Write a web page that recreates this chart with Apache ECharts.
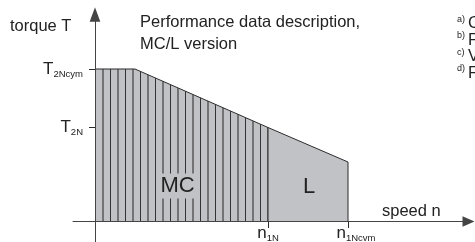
<!DOCTYPE html>
<html>
<head>
<meta charset="utf-8">
<script src="https://cdn.jsdelivr.net/npm/echarts@6/dist/echarts.min.js"></script>
<style>
  html, body { margin: 0; padding: 0; background: #fff; }
  #main { width: 475px; height: 242px; }
</style>
</head>
<body>
<div id="main"></div>
<script>
// torque/speed envelope, relative units (speed on x, torque on y)
const nCorner = 40        // end of the flat T2Ncym part
const n1N = 173
const n1Ncvm = 253
const T2Ncym = 152.5
const T2N = 94
const TEnd = 59.5         // torque left at n1Ncvm

const mcOutline = [[0, T2Ncym], [nCorner, T2Ncym], [n1N, T2N]]
const lOutline = [[n1N, 0], [n1N, T2N], [n1Ncvm, TEnd], [n1Ncvm, 0]]

const xTicks = [n1N, n1Ncvm]
const xTickNames = [['n', '1N'], ['n', '1Ncvm']]
const yTicks = [T2Ncym, T2N]
const yTickNames = [['T', '2Ncym'], ['T', '2N']]

const noteKeys = ['a)', 'b)', 'c)', 'd)']
const noteWords = ['C', 'F', 'V', 'F']

const FONT = '"Liberation Sans", Arial, sans-serif'
const INK = '#222'
const GREY = '#c1c2c6'
const LINE = '#2b2b2b'

// vertical hatching for the MC field (7.5px pitch, anchored on the torque axis)
const hatch = document.createElement('canvas')
hatch.width = 15
hatch.height = 4
const g = hatch.getContext('2d')
g.fillStyle = GREY
g.fillRect(0, 0, 15, 4)
g.fillStyle = '#333'
g.fillRect(5, 0, 1, 4)
g.globalAlpha = 0.55
g.fillRect(12, 0, 1, 4)
g.fillRect(13, 0, 1, 4)

const sub = { fontSize: 9.5, fontFamily: FONT, color: INK, padding: [10, 0, 0, 0] }

const myChart = echarts.init(document.getElementById('main'))

const graphic = [
  { type: 'text', x: 10, y: 26, style: { text: 'torque T', font: '16.5px ' + FONT, fill: INK, verticalAlign: 'middle' } },
  { type: 'text', x: 140, y: 22, style: { text: 'Performance data description,', font: '16.5px ' + FONT, fill: INK, verticalAlign: 'middle' } },
  { type: 'text', x: 140, y: 44.5, style: { text: 'MC/L version', font: '16.5px ' + FONT, fill: INK, verticalAlign: 'middle' } },
  { type: 'text', x: 382, y: 211, style: { text: 'speed n', font: '16.5px ' + FONT, fill: INK, verticalAlign: 'middle' } },
  { type: 'text', x: 177.5, y: 186, z: 10, style: { text: 'MC', font: '22px ' + FONT, fill: INK, align: 'center', verticalAlign: 'middle', backgroundColor: GREY, padding: [3, 3, 0, 3] } },
  { type: 'text', x: 309, y: 187, z: 10, style: { text: 'L', font: '22px ' + FONT, fill: INK, align: 'center', verticalAlign: 'middle' } }
]
noteKeys.forEach((k, i) => {
  const y = 23.5 + i * 16.5
  graphic.push({ type: 'text', x: 457, y: y - 4, style: { text: k, font: '9px ' + FONT, fill: INK, verticalAlign: 'middle' } })
  graphic.push({ type: 'text', x: 468, y: y, style: { text: noteWords[i], font: '16.5px ' + FONT, fill: INK, verticalAlign: 'middle' } })
})

const option = {
  animation: false,
  grid: { left: 73, right: 6.5, top: 14.5, bottom: 0, containLabel: false, outerBoundsMode: 'none' },
  xAxis: {
    type: 'value',
    min: -22,
    max: 373.5,
    z: 5,
    splitLine: { show: false },
    axisLine: {
      onZero: true,
      lineStyle: { color: '#444', width: 1 },
      symbol: ['none', 'triangle'],
      symbolSize: [10.5, 12]
    },
    axisTick: { show: true, customValues: xTicks, length: 6.5, lineStyle: { color: LINE } },
    axisLabel: {
      customValues: xTicks,
      // labels are laid out from the grid edge (242px), so pull them back up
      margin: -19,
      formatter: v => {
        const i = xTicks.indexOf(v)
        return '{m' + i + '|' + xTickNames[i][0] + '}{s|' + xTickNames[i][1] + '}'
      },
      rich: {
        m0: { fontSize: 17, fontFamily: FONT, color: INK },
        m1: { fontSize: 17, fontFamily: FONT, color: INK, padding: [0, 0, 0, 16] },
        s: sub
      }
    }
  },
  yAxis: {
    type: 'value',
    min: -20.5,
    max: 207,
    z: 5,
    splitLine: { show: false },
    axisLine: {
      onZero: true,
      lineStyle: { color: '#444', width: 1 },
      symbol: ['none', 'triangle'],
      symbolSize: [10.7, 14.5]
    },
    axisTick: { show: true, customValues: yTicks, length: 6, lineStyle: { color: LINE } },
    axisLabel: {
      customValues: yTicks,
      margin: -10,
      formatter: v => {
        const i = yTicks.indexOf(v)
        return '{m|' + yTickNames[i][0] + '}{s|' + yTickNames[i][1] + '}'
      },
      rich: {
        m: { fontSize: 17, fontFamily: FONT, color: INK },
        s: sub
      }
    }
  },
  series: [
    {
      name: 'MC',
      type: 'line',
      data: mcOutline,
      symbol: 'none',
      lineStyle: { color: LINE, width: 1 },
      areaStyle: { color: { image: hatch, repeat: 'repeat' }, opacity: 1 }
    },
    {
      name: 'L',
      type: 'line',
      data: lOutline,
      symbol: 'none',
      lineStyle: { color: LINE, width: 1 },
      areaStyle: { color: GREY, opacity: 1 }
    }
  ],
  graphic: graphic
}

myChart.setOption(option)
</script>
</body>
</html>
